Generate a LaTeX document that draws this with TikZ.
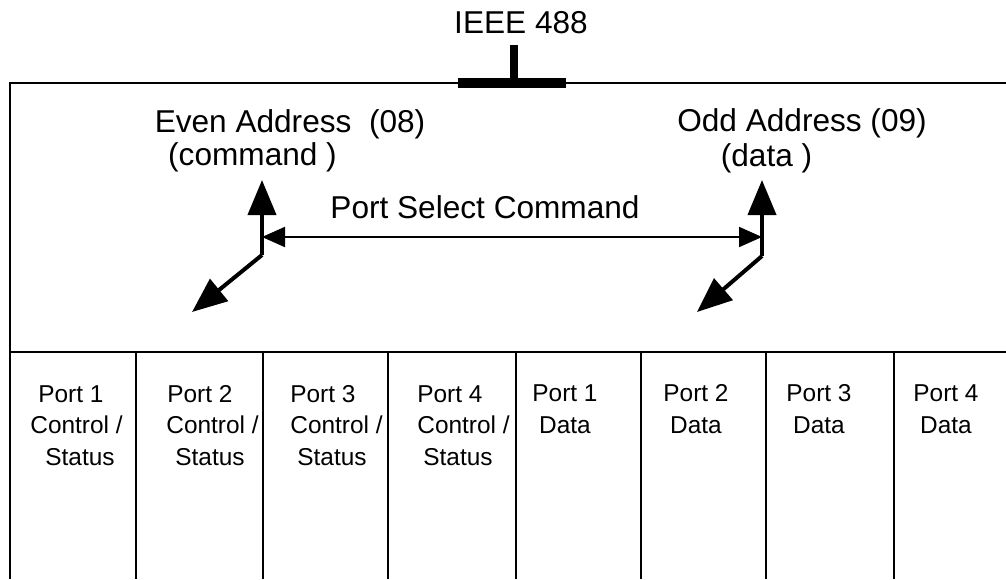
\documentclass[tikz,border=0pt]{standalone}
\usepackage{fontspec}
\setmainfont{Liberation Sans}
\usetikzlibrary{arrows.meta}
\begin{document}
\begin{tikzpicture}[x=0.5pt,y=-0.5pt,
    big/.style={font=\fontsize{15.8}{18}\selectfont,inner sep=0pt,anchor=base},
    portlbl/.style={font=\fontsize{12.2}{15.75}\selectfont,inner sep=0pt,anchor=base west,align=left},
    datalbl/.style={font=\fontsize{12.2}{15.75}\selectfont,inner sep=0pt,anchor=base,align=center},
    frame/.style={line width=0.9pt},
    fatarrow/.style={line width=2pt,-{Triangle[length=17.5pt,width=14pt]}},
    selarrow/.style={line width=1pt,{Triangle[length=11.5pt,width=10pt]}-{Triangle[length=11.5pt,width=10pt]}}]
  \useasboundingbox (0,0) rectangle (1006,579);
  % bus
  \node[big] (ieee) at (521,33) {IEEE 488};
  \coordinate (stem) at (514,45);
  \coordinate (busl) at (458,82.5);
  \coordinate (busr) at (566,82.5);
  \draw[line width=5pt] (busl) -- (busr);
  \draw[line width=4pt] (stem) -- (stem |- busl);
  % board
  \draw[frame] (1006,83) -- (10,83) -- (10,352) -- (1006,352);
  \foreach \x in {10,136,263,388,516,641,766,894}
    \draw[frame] (\x,352) -- (\x,579);
  % addresses
  \node[big] (even) at (290,132) {Even Address\ \ (08)};
  \node[big] (cmd) at (252.5,165) {(command )};
  \node[big] (odd) at (802,131) {Odd Address (09)};
  \node[big] (dat) at (766.5,166) {(data )};
  \node[big] (sel) at (485,218) {Port Select Command};
  \coordinate (jl) at (262,255);
  \coordinate (jr) at (762,256);
  \coordinate (upl) at (262,180);
  \coordinate (upr) at (762,180);
  \coordinate (dnl) at (192,312);
  \coordinate (dnr) at (697,312);
  \coordinate (hl) at (262,237);
  \coordinate (hr) at (762,237);
  \draw[fatarrow] (jl) -- (upl);
  \draw[fatarrow] (jl) -- (dnl);
  \draw[fatarrow] (jr) -- (upr);
  \draw[fatarrow] (jr) -- (dnr);
  \draw[selarrow] (hl) -- (hr);
  % ports
  \foreach \x/\n/\p/\s in {30/1/4/7.5,166/2/0.5/4.5,290/3/0/3.5,417/4/0/3}
    \node[portlbl] (c\n) at (\x,465) {\hspace*{\p pt}Port \n\\Control /\\\hspace*{\s pt}Status};
  \foreach \x/\n in {565/1,696/2,819/3,946/4}
    \node[datalbl] (d\n) at (\x,433) {Port \n\\Data};
\end{tikzpicture}
\end{document}
